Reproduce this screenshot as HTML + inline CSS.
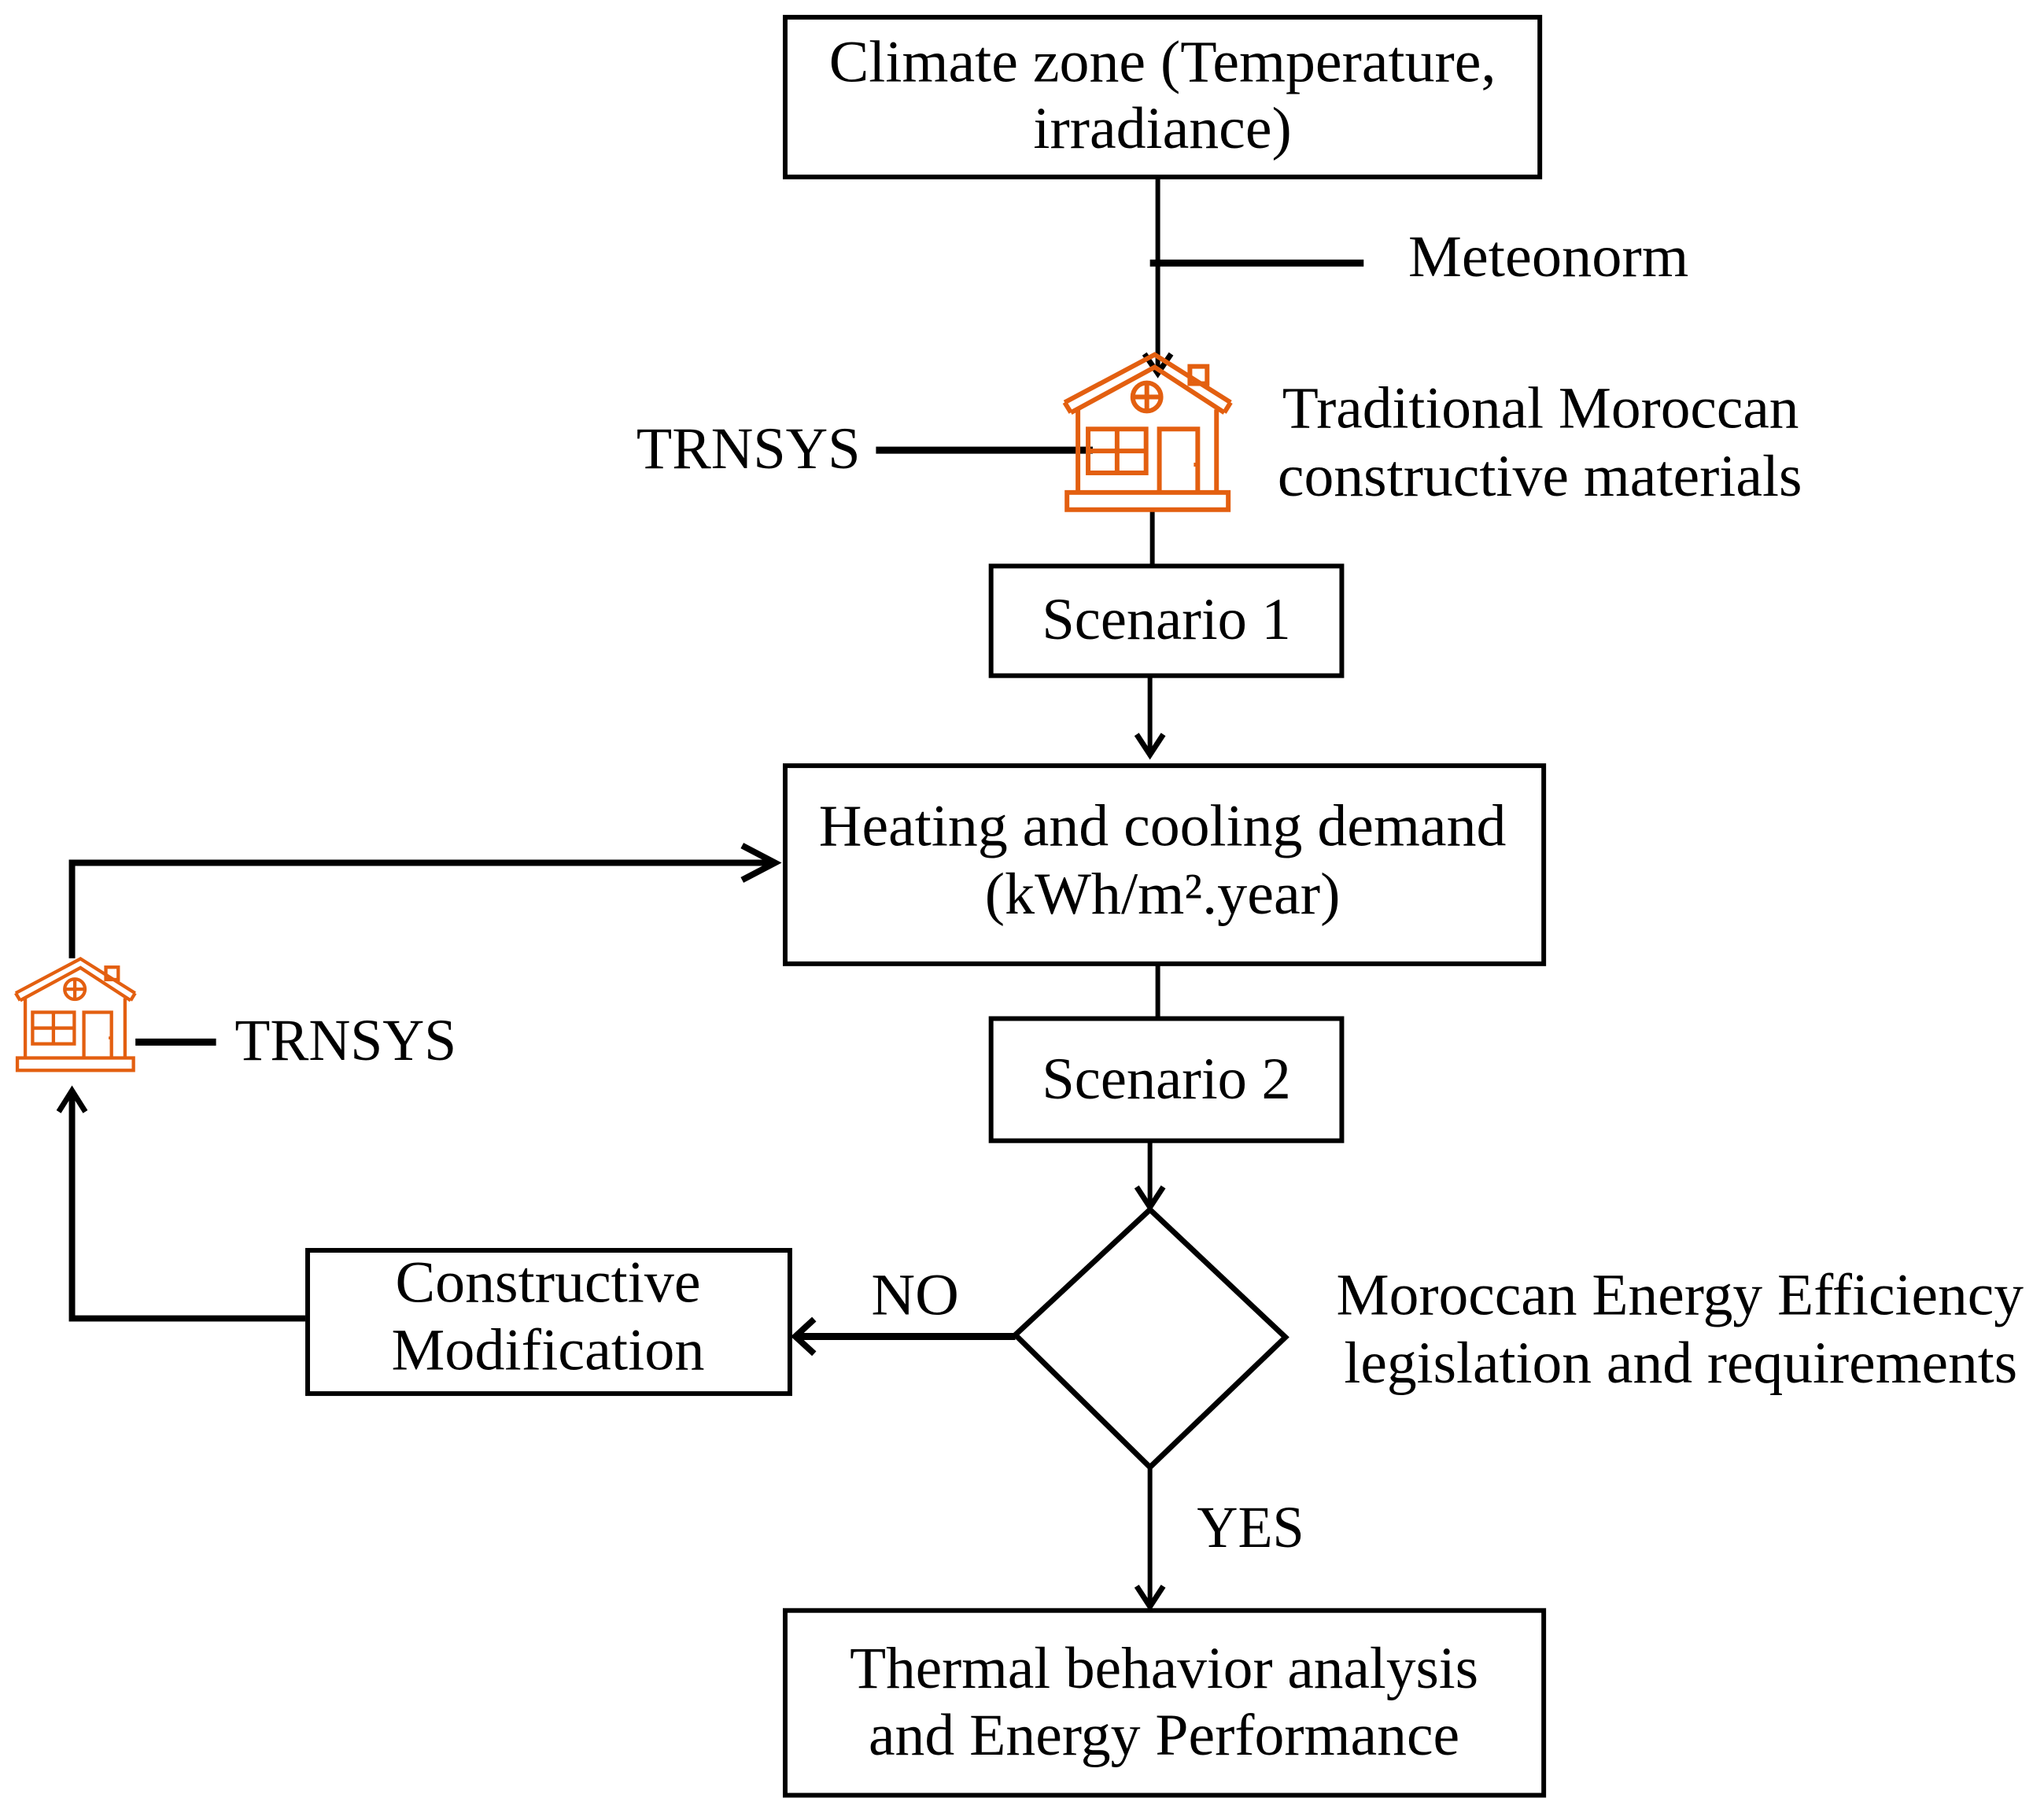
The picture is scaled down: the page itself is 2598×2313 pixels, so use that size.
<!DOCTYPE html>
<html><head><meta charset="utf-8"><style>
html,body{margin:0;padding:0;background:#fff;}
svg{display:block;}
text{font-family:"Liberation Serif",serif;font-size:76px;fill:#000;}
</style></head><body>
<svg width="2598" height="2313" viewBox="0 0 2598 2313" xmlns="http://www.w3.org/2000/svg">
<defs>
<g id="house" fill="none" stroke="#E35F10" stroke-width="6">
  <polyline points="0,59 115,-2 212,59"/>
  <polyline points="8,72 115,14 204,72"/>
  <line x1="0" y1="59" x2="8" y2="72"/><line x1="212" y1="59" x2="204" y2="72"/>
  <rect x="160" y="13" width="22" height="22"/>
  <circle cx="105" cy="52" r="18"/>
  <line x1="87" y1="52" x2="123" y2="52"/><line x1="105" y1="34" x2="105" y2="70"/>
  <line x1="17" y1="68" x2="17" y2="174"/><line x1="194" y1="68" x2="194" y2="174"/>
  <rect x="30" y="93" width="74" height="56"/>
  <line x1="67" y1="93" x2="67" y2="149"/><line x1="30" y1="121" x2="104" y2="121"/>
  <polyline points="121,174 121,93 170,93 170,174"/>
  <rect x="165" y="136" width="5" height="5" fill="#E35F10" stroke="none"/>
  <rect x="3" y="174" width="206" height="22"/>
</g>
</defs>
<g transform="scale(0.995)">
<g fill="none" stroke="#000" stroke-width="6">
  <rect x="1003" y="22" width="964" height="204"/>
  <rect x="1266" y="723" width="448" height="140"/>
  <rect x="1003" y="978" width="969" height="253"/>
  <rect x="1266" y="1301" width="448" height="156"/>
  <rect x="393" y="1597" width="616" height="183"/>
  <rect x="1003" y="2057" width="969" height="236"/>
  <polygon points="1469,1545 1642,1708 1469,1874 1297,1705" stroke-width="7"/>
  <line x1="1479" y1="226" x2="1479" y2="475"/>
  <polyline points="1462,452 1479,477 1496,452" stroke-width="7"/>
  <line x1="1472" y1="653" x2="1472" y2="723"/>
  <line x1="1469" y1="863" x2="1469" y2="962"/>
  <polyline points="1452,938 1469,964 1486,938" stroke-width="7"/>
  <line x1="1479" y1="1231" x2="1479" y2="1301"/>
  <line x1="1469" y1="1457" x2="1469" y2="1540"/>
  <polyline points="1452,1516 1469,1542 1486,1516" stroke-width="7"/>
  <line x1="1469" y1="1874" x2="1469" y2="2050"/>
  <polyline points="1452,2026 1469,2052 1486,2026" stroke-width="7"/>
  <polyline points="390,1684 92,1684 92,1395" stroke-width="8"/>
  <polyline points="75,1420 92,1393 109,1420" stroke-width="7"/>
  <polyline points="92,1224 92,1102 990,1102" stroke-width="8"/>
</g>
<g fill="none" stroke="#000" stroke-width="9">
  <line x1="1469" y1="336" x2="1742" y2="336"/>
  <line x1="1119" y1="575" x2="1396" y2="575"/>
  <line x1="173" y1="1331" x2="276" y2="1331"/>
  <line x1="1297" y1="1707" x2="1020" y2="1707"/>
  <polyline points="1040,1685 1016,1707 1040,1729" stroke-width="8"/>
  <polyline points="948,1080 990,1102 948,1124" stroke-width="8"/>
</g>
<use href="#house" transform="translate(1360,455)"/>
<use href="#house" transform="translate(20,1226) scale(0.72)"/>
<g>
<text x="1485" y="104" text-anchor="middle" textLength="852" lengthAdjust="spacingAndGlyphs">Climate zone (Temperature,</text>
<text x="1485" y="189" text-anchor="middle" textLength="330" lengthAdjust="spacingAndGlyphs">irradiance)</text>
<text x="1799" y="353" textLength="358" lengthAdjust="spacingAndGlyphs">Meteonorm</text>
<text x="813" y="598" textLength="286" lengthAdjust="spacingAndGlyphs">TRNSYS</text>
<text x="1638" y="546" textLength="660" lengthAdjust="spacingAndGlyphs">Traditional Moroccan</text>
<text x="1632" y="633" textLength="670" lengthAdjust="spacingAndGlyphs">constructive materials</text>
<text x="1490" y="816" text-anchor="middle" textLength="318" lengthAdjust="spacingAndGlyphs">Scenario 1</text>
<text x="1485" y="1080" text-anchor="middle" textLength="878" lengthAdjust="spacingAndGlyphs">Heating and cooling demand</text>
<text x="1485" y="1167" text-anchor="middle" textLength="454" lengthAdjust="spacingAndGlyphs">(kWh/m².year)</text>
<text x="1490" y="1403" text-anchor="middle" textLength="318" lengthAdjust="spacingAndGlyphs">Scenario 2</text>
<text x="300" y="1354" textLength="283" lengthAdjust="spacingAndGlyphs">TRNSYS</text>
<text x="1113" y="1679" textLength="112" lengthAdjust="spacingAndGlyphs">NO</text>
<text x="700" y="1663" text-anchor="middle" textLength="390" lengthAdjust="spacingAndGlyphs">Constructive</text>
<text x="700" y="1749" text-anchor="middle" textLength="400" lengthAdjust="spacingAndGlyphs">Modification</text>
<text x="1707" y="1679" textLength="878" lengthAdjust="spacingAndGlyphs">Moroccan Energy Efficiency</text>
<text x="1717" y="1766" textLength="860" lengthAdjust="spacingAndGlyphs">legislation and requirements</text>
<text x="1529" y="1976" textLength="137" lengthAdjust="spacingAndGlyphs">YES</text>
<text x="1487" y="2156" text-anchor="middle" textLength="803" lengthAdjust="spacingAndGlyphs">Thermal behavior analysis</text>
<text x="1487" y="2241" text-anchor="middle" textLength="755" lengthAdjust="spacingAndGlyphs">and Energy Performance</text>
</g>
</g>
</svg>
</body></html>
